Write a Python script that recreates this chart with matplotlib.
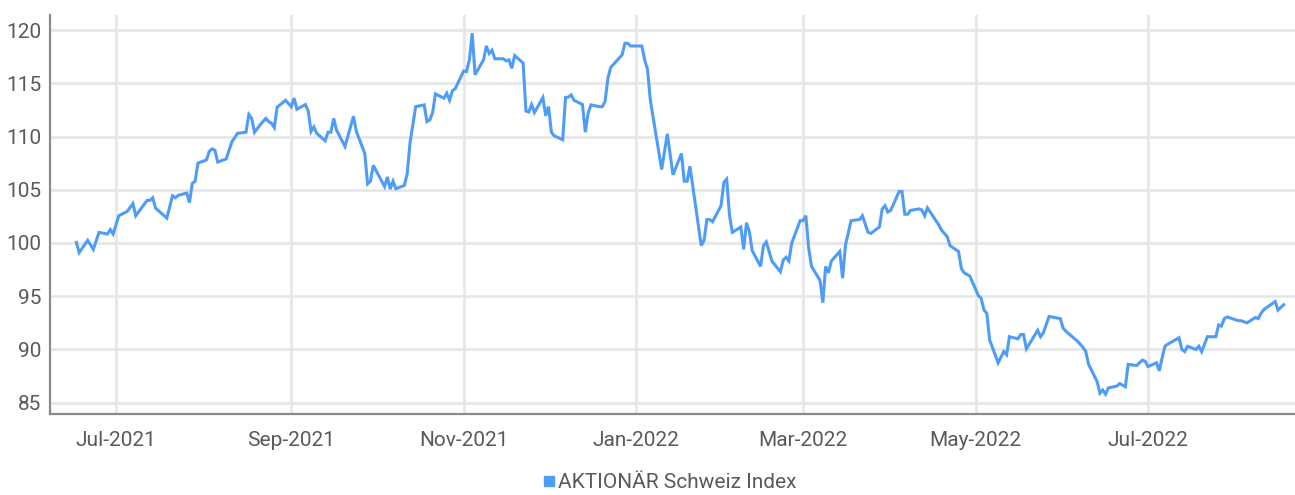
import pandas as pd
from matplotlib import pyplot as plt, dates
from matplotlib.lines import Line2D

plt.rcParams["font.family"] = ["Roboto", "DejaVu Sans"]

# trading days (approximate)
DATES = [
    "2021-06-17", "2021-06-18", "2021-06-21", "2021-06-23", "2021-06-25",
    "2021-06-28", "2021-06-29", "2021-06-30", "2021-07-02", "2021-07-05",
    "2021-07-07", "2021-07-08", "2021-07-12", "2021-07-13", "2021-07-14",
    "2021-07-15", "2021-07-19", "2021-07-21", "2021-07-22", "2021-07-23",
    "2021-07-26", "2021-07-27", "2021-07-28", "2021-07-29", "2021-07-30",
    "2021-08-02", "2021-08-03", "2021-08-04", "2021-08-05", "2021-08-06",
    "2021-08-09", "2021-08-11", "2021-08-13", "2021-08-16", "2021-08-17",
    "2021-08-18", "2021-08-19", "2021-08-21", "2021-08-23", "2021-08-24",
    "2021-08-25", "2021-08-26", "2021-08-27", "2021-08-30", "2021-09-01",
    "2021-09-02", "2021-09-03", "2021-09-06", "2021-09-07", "2021-09-08",
    "2021-09-09", "2021-09-10", "2021-09-13", "2021-09-14", "2021-09-15",
    "2021-09-16", "2021-09-17", "2021-09-20", "2021-09-23", "2021-09-24",
    "2021-09-27", "2021-09-28", "2021-09-29", "2021-09-30", "2021-10-04",
    "2021-10-05", "2021-10-06", "2021-10-07", "2021-10-08", "2021-10-11",
    "2021-10-12", "2021-10-13", "2021-10-15", "2021-10-18", "2021-10-19",
    "2021-10-20", "2021-10-21", "2021-10-22", "2021-10-25", "2021-10-26",
    "2021-10-27", "2021-10-28", "2021-10-29", "2021-11-01", "2021-11-02",
    "2021-11-03", "2021-11-04", "2021-11-05", "2021-11-08", "2021-11-09",
    "2021-11-10", "2021-11-11", "2021-11-12", "2021-11-15", "2021-11-16",
    "2021-11-17", "2021-11-18", "2021-11-19", "2021-11-22", "2021-11-23",
    "2021-11-24", "2021-11-25", "2021-11-26", "2021-11-29", "2021-11-30",
    "2021-12-01", "2021-12-02", "2021-12-03", "2021-12-06", "2021-12-07",
    "2021-12-08", "2021-12-09", "2021-12-10", "2021-12-13", "2021-12-14",
    "2021-12-15", "2021-12-16", "2021-12-19", "2021-12-20", "2021-12-21",
    "2021-12-22", "2021-12-23", "2021-12-27", "2021-12-28", "2021-12-29",
    "2021-12-30", "2022-01-03", "2022-01-04", "2022-01-05", "2022-01-06",
    "2022-01-10", "2022-01-12", "2022-01-14", "2022-01-17", "2022-01-18",
    "2022-01-19", "2022-01-20", "2022-01-24", "2022-01-25", "2022-01-26",
    "2022-01-27", "2022-01-28", "2022-01-31", "2022-02-01", "2022-02-02",
    "2022-02-03", "2022-02-04", "2022-02-07", "2022-02-08", "2022-02-09",
    "2022-02-10", "2022-02-11", "2022-02-14", "2022-02-15", "2022-02-16",
    "2022-02-18", "2022-02-21", "2022-02-22", "2022-02-23", "2022-02-24",
    "2022-02-25", "2022-02-28", "2022-03-01", "2022-03-02", "2022-03-03",
    "2022-03-04", "2022-03-07", "2022-03-08", "2022-03-09", "2022-03-10",
    "2022-03-11", "2022-03-14", "2022-03-15", "2022-03-16", "2022-03-18",
    "2022-03-21", "2022-03-22", "2022-03-24", "2022-03-25", "2022-03-28",
    "2022-03-29", "2022-03-30", "2022-03-31", "2022-04-01", "2022-04-04",
    "2022-04-05", "2022-04-06", "2022-04-07", "2022-04-08", "2022-04-11",
    "2022-04-12", "2022-04-13", "2022-04-14", "2022-04-18", "2022-04-19",
    "2022-04-21", "2022-04-22", "2022-04-25", "2022-04-26", "2022-04-27",
    "2022-04-29", "2022-05-02", "2022-05-03", "2022-05-04", "2022-05-05",
    "2022-05-06", "2022-05-09", "2022-05-11", "2022-05-12", "2022-05-13",
    "2022-05-16", "2022-05-17", "2022-05-18", "2022-05-19", "2022-05-23",
    "2022-05-24", "2022-05-25", "2022-05-27", "2022-05-31", "2022-06-01",
    "2022-06-02", "2022-06-06", "2022-06-08", "2022-06-09", "2022-06-10",
    "2022-06-13", "2022-06-14", "2022-06-15", "2022-06-16", "2022-06-17",
    "2022-06-20", "2022-06-21", "2022-06-23", "2022-06-24", "2022-06-27",
    "2022-06-29", "2022-06-30", "2022-07-01", "2022-07-04", "2022-07-05",
    "2022-07-06", "2022-07-07", "2022-07-08", "2022-07-12", "2022-07-13",
    "2022-07-14", "2022-07-15", "2022-07-18", "2022-07-19", "2022-07-20",
    "2022-07-22", "2022-07-25", "2022-07-26", "2022-07-27", "2022-07-28",
    "2022-07-29", "2022-08-02", "2022-08-03", "2022-08-05", "2022-08-08",
    "2022-08-09", "2022-08-10", "2022-08-11", "2022-08-15", "2022-08-16",
    "2022-08-18",
]

VALUES = [
    100.06, 99.1, 100.25, 99.4, 101.0,
    100.84, 101.25, 100.84, 102.56, 102.97,
    103.7, 102.56, 104.0, 104.0, 104.25,
    103.28, 102.34, 104.44, 104.25, 104.47,
    104.69, 103.8, 105.6, 105.8, 107.5,
    107.8, 108.6, 108.84, 108.7, 107.6,
    107.9, 109.5, 110.3, 110.4, 112.06,
    111.7, 110.4, 111.1, 111.7, 111.4,
    111.25, 110.84, 112.75, 113.4, 112.8,
    113.6, 112.56, 113.0, 112.4, 110.47,
    110.9, 110.3, 109.6, 110.4, 110.4,
    111.7, 110.6, 109.06, 111.9, 110.5,
    108.4, 105.56, 105.8, 107.3, 105.3,
    106.2, 105.06, 105.8, 105.1, 105.4,
    106.5, 109.4, 112.8, 112.97, 111.4,
    111.56, 112.25, 114.0, 113.6, 114.06,
    113.4, 114.3, 114.5, 116.16, 116.1,
    117.2, 119.7, 115.8, 117.2, 118.5,
    117.8, 118.1, 117.3, 117.3, 117.1,
    117.2, 116.4, 117.6, 116.9, 112.4,
    112.3, 113.0, 112.25, 113.66, 111.94,
    112.8, 110.4, 110.06, 109.7, 113.66,
    113.7, 113.9, 113.4, 113.0, 110.4,
    112.2, 112.97, 112.8, 112.8, 113.3,
    115.5, 116.5, 117.66, 118.75, 118.75,
    118.5, 118.5, 117.2, 116.3, 113.4,
    106.9, 110.25, 106.4, 108.4, 105.8,
    105.8, 107.2, 99.75, 100.25, 102.2,
    102.2, 102.0, 103.5, 105.7, 106.0,
    102.6, 101.0, 101.5, 99.4, 101.9,
    101.1, 99.3, 97.8, 99.75, 100.1,
    98.3, 97.3, 98.4, 98.66, 98.3,
    100.0, 102.1, 102.1, 102.56, 99.5,
    97.8, 96.5, 94.4, 97.8, 97.2,
    98.3, 99.2, 96.7, 99.8, 102.1,
    102.2, 102.56, 101.0, 100.9, 101.5,
    103.2, 103.5, 102.9, 103.06, 104.84,
    104.84, 102.7, 102.7, 103.06, 103.2,
    103.1, 102.56, 103.3, 101.7, 101.2,
    100.6, 99.75, 99.2, 97.6, 97.2,
    96.9, 95.06, 94.8, 93.7, 93.4,
    90.9, 88.75, 89.8, 89.5, 91.2,
    91.0, 91.4, 91.4, 90.06, 91.8,
    91.2, 91.56, 93.1, 92.9, 92.0,
    91.7, 90.8, 90.2, 89.8, 88.6,
    87.0, 85.9, 86.2, 85.8, 86.4,
    86.56, 86.8, 86.5, 88.6, 88.5,
    89.0, 88.9, 88.4, 88.75, 88.0,
    89.2, 90.3, 90.5, 91.1, 90.0,
    89.8, 90.3, 90.0, 90.3, 89.8,
    91.2, 91.2, 92.3, 92.2, 92.9,
    93.06, 92.7, 92.7, 92.5, 93.0,
    92.9, 93.4, 93.75, 94.5, 93.7,
    94.2,
]

SERIES_NAME = "AKTIONÄR Schweiz Index"
Y_TICKS = [85, 90, 95, 100, 105, 110, 115, 120]

LINE_COLOR = "#4f9cf7"
GRID_COLOR = "#e6e6e6"
SPINE_COLOR = "#8a8a8a"
TEXT_COLOR = "#5a5a5a"


def make_line_graph():
    """
    Draw the index line
    """
    d_f = pd.DataFrame({"Date": pd.to_datetime(DATES), "Value": VALUES})

    fig = plt.figure(figsize=(12.95, 4.95), dpi=100)
    axes = fig.add_axes([0.0386, 0.1636, 0.9614, 0.8061])

    axes.plot(d_f["Date"], d_f["Value"], color=LINE_COLOR, linewidth=2.2,
              solid_joinstyle="miter", zorder=3)

    axes.set_xlim(pd.Timestamp("2021-06-07 16:00"), pd.Timestamp("2022-08-22"))
    axes.set_ylim(83.94, 121.41)
    axes.set_yticks(Y_TICKS)

    axes.xaxis.set_major_locator(dates.MonthLocator(bymonth=[1, 3, 5, 7, 9, 11]))
    axes.xaxis.set_major_formatter(dates.DateFormatter("%b-%Y"))

    axes.grid(True, color=GRID_COLOR, linewidth=1.9, zorder=0)
    axes.set_axisbelow(True)

    for side in ["top", "right"]:
        axes.spines[side].set_visible(False)
    for side in ["left", "bottom"]:
        axes.spines[side].set_color(SPINE_COLOR)
        axes.spines[side].set_linewidth(1.6)

    axes.tick_params(axis="y", length=0, pad=6, labelsize=15,
                     labelcolor=TEXT_COLOR)
    axes.tick_params(axis="x", length=0, pad=12, labelsize=15,
                     labelcolor=TEXT_COLOR)

    handle = Line2D([], [], color=LINE_COLOR, marker="s", linestyle="none",
                    markersize=7)
    fig.legend([handle], [SERIES_NAME], loc="center",
               bbox_to_anchor=(0.517, 0.025), frameon=False, fontsize=15,
               labelcolor=TEXT_COLOR, handletextpad=0.1, handlelength=0.6,
               borderaxespad=0)

    plt.savefig("out.png", dpi=100)


make_line_graph()
